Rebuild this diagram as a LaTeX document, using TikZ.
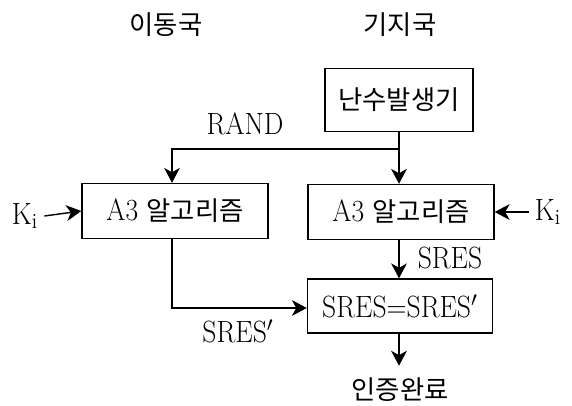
\documentclass[tikz,border=0pt]{standalone}
\usepackage{fontspec}
\setmainfont{Latin Modern Roman}[FakeStretch=0.9]
\newfontfamily\kr{Noto Sans CJK KR}
\newcommand\ko[1]{{\fontsize{15}{18}\selectfont\kr #1}}
\usetikzlibrary{arrows.meta}
\tikzset{
	blk/.style={draw, line width=0.8pt, inner sep=0pt, font=\fontsize{17.5}{20}\selectfont},
	lbl/.style={inner sep=0pt, font=\fontsize{17.5}{20}\selectfont},
	arr/.style={-{Stealth[length=8.5pt,width=9pt,inset=2.5pt]}, line width=0.8pt},
}
\begin{document}
\begin{tikzpicture}[x=0.02cm, y=-0.02cm]
		\useasboundingbox (0,0) rectangle (572,406);
		% headers
		\node [lbl] (0) at (166, 25) {\ko{이동국}};
		\node [lbl] (1) at (400, 25) {\ko{기지국}};

		% boxes
		\node [blk, minimum width=2.96cm, minimum height=1.26cm] (2) at (399, 100) {\ko{난수발생기}};
		\node [blk, minimum width=3.72cm, minimum height=1.1cm] (3) at (175, 211) {A3 \ko{알고리즘}};
		\node [blk, minimum width=3.72cm, minimum height=1.1cm] (4) at (401, 212) {A3 \ko{알고리즘}};
		\node [blk, minimum width=3.7cm, minimum height=1.08cm] (5) at (400, 306) {SRES=SRES$'$};
		\node [lbl] (6) at (400, 390) {\ko{인증완료}};

		% free ends
		\coordinate (7) at (399, 149);
		\coordinate (8) at (172, 149);
		\coordinate (9) at (172, 308);

		% labels
		\node [lbl] (10) at (245, 124) {RAND};
		\node [lbl] (11) at (25, 216) {K\textsubscript{i}};
		\node [lbl] (12) at (548, 212) {K\textsubscript{i}};
		\node [lbl] (13) at (450, 258) {SRES};
		\node [lbl] (14) at (238, 331) {SRES$'$};

		\draw [arr] (2.south -| 7) to (4.north -| 7);
		\draw [arr] (7) to (8) to (3.north -| 8);
		\draw [arr] (11.east) ++(6,0) to (3.west);
		\draw [arr] (12.west) ++(-6,0) to (4.east);
		\draw [arr] (4.south -| 7) to (5.north -| 7);
		\draw [arr] (3.south -| 8) to (9) to (5.west |- 9);
		\draw [arr] (5.south -| 7) to ++(0,32);
\end{tikzpicture}
\end{document}
